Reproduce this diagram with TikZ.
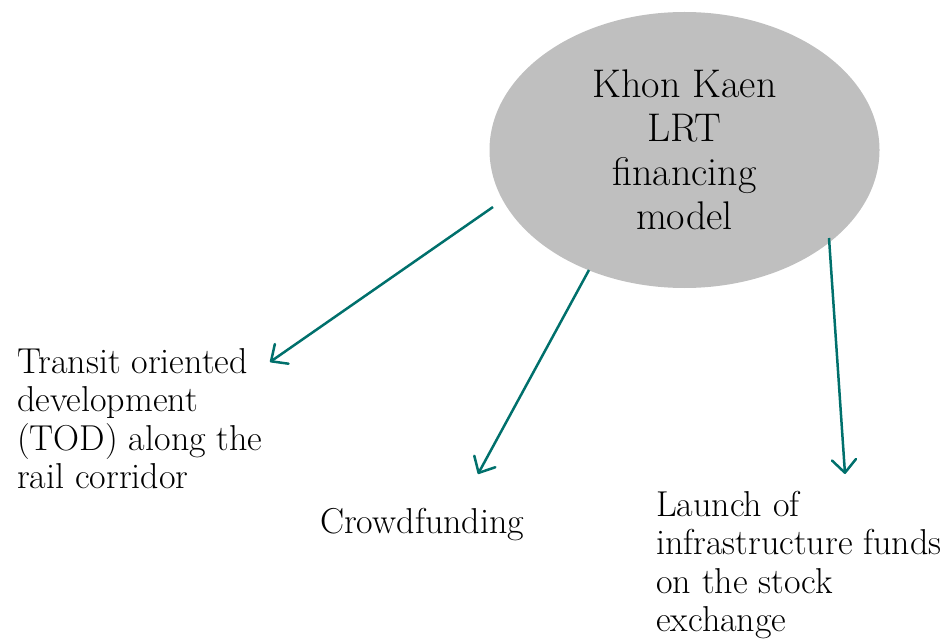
\documentclass[tikz,border=0pt]{standalone}
\usetikzlibrary{arrows.meta,shapes.geometric}
\definecolor{teal1}{RGB}{0,112,108}
\definecolor{ellgray}{RGB}{191,191,191}
\tikzset{
  conn/.style={draw=teal1, line width=2.5pt, -{Straight Barb[length=13pt,width=24pt,line width=2.5pt,line cap=round,line join=round]}},
  lbl/.style={anchor=north west, inner sep=0pt, align=left, font=\fontsize{36}{38.5}\selectfont},
}
\begin{document}
\begin{tikzpicture}[x=1pt,y=-1pt]
\useasboundingbox (0,0) rectangle (944,639);
\node[ellipse, fill=ellgray, minimum width=390pt, minimum height=276pt, inner sep=0pt, align=center,
      font=\fontsize{40}{44}\selectfont] (E) at (684.5,150) {Khon Kaen\\LRT\\financing\\model};
\node[lbl] (tod) at (17,348) {Transit oriented\\development\\(TOD) along the\\rail corridor};
\node[lbl] (crowd) at (320,508) {Crowdfunding};
\node[lbl] (fund) at (656,491) {Launch of\\infrastructure funds\\on the stock\\exchange};
\coordinate (s1) at (493,207);
\coordinate (t1) at (270,362);
\coordinate (s2) at (589,270);
\coordinate (t2) at (478,474);
\coordinate (s3) at (829,238);
\coordinate (t3) at (845,474);
\draw[conn] (s1) -- (t1);
\draw[conn] (s2) -- (t2);
\draw[conn] (s3) -- (t3);
\end{tikzpicture}
\end{document}
